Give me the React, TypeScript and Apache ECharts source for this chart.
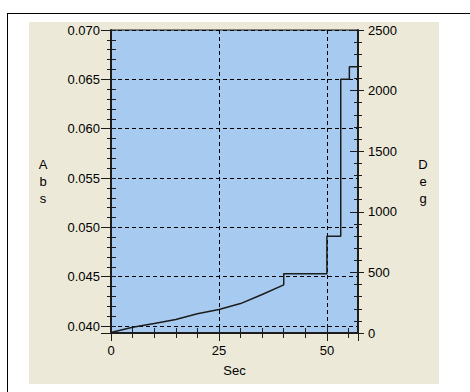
import { useEffect, useRef } from "react";
import * as echarts from "echarts";

// Absorbance trace over time (Abs on the left axis)
const secValues = [0, 5, 10, 15, 20, 25, 30, 35, 40, 40, 50, 50, 53.2, 53.2, 55.2, 55.2, 57.2];
const absValues = [
  0.03935, 0.03988, 0.04026, 0.04067, 0.04125, 0.04168, 0.04228, 0.0432, 0.04418,
  0.0453, 0.0453, 0.0491, 0.0491, 0.065, 0.065, 0.06628, 0.06628,
];

// Axis ranges and major steps
const secRange = [0, 57.2];
const secStep = 25;
const absRange = [0.0393, 0.07];
const absStep = 0.005;
const degRange = [0, 2500];
const degStep = 500;

const FONT = "'Liberation Sans', Arial, sans-serif";
const INK = "#1c1c1c";
const PLOT_BG = "#A6CAF0";
const PANEL_BG = "#ECE9D8";

const labelText = { color: "#000", fontFamily: FONT, fontSize: 13 };
const nameText = {
  color: "#000",
  fontFamily: FONT,
  fontSize: 13,
  lineHeight: 17,
  align: "center",
  verticalAlign: "middle",
};
const tickLine = { color: INK, width: 1 };
const gridDash = { color: "#000", width: 1, type: [4, 3] };

const isStep = (v: number, step: number) => Math.abs(v / step - Math.round(v / step)) < 1e-6;

export default function App() {
  const ref = useRef<HTMLDivElement>(null);

  useEffect(() => {
    if (!ref.current) return;
    const chart = echarts.init(ref.current, null, { renderer: "svg" });

    const secBase = {
      type: "value",
      position: "bottom",
      min: secRange[0],
      max: secRange[1],
      splitNumber: 2,
      minInterval: secStep,
      maxInterval: secStep,
    };
    const absBase = {
      type: "value",
      position: "left",
      min: absRange[0],
      max: absRange[1],
      splitNumber: 6,
      minInterval: absStep,
      maxInterval: absStep,
    };
    const degBase = {
      type: "value",
      position: "right",
      min: degRange[0],
      max: degRange[1],
      interval: degStep,
    };

    chart.setOption({
      animation: false,
      backgroundColor: "transparent",
      grid: {
        left: 111,
        top: 30,
        width: 247,
        height: 303,
        show: true,
        backgroundColor: PLOT_BG,
        borderColor: INK,
        borderWidth: 1,
      },
      xAxis: [
        {
          ...secBase,
          axisLine: { show: true, onZero: false, lineStyle: { color: INK, width: 2 } },
          axisTick: { show: true, inside: false, length: 8, lineStyle: tickLine },
          minorTick: { show: true, splitNumber: 5, length: 5, lineStyle: tickLine },
          axisLabel: {
            ...labelText,
            margin: 11,
            showMaxLabel: false,
            formatter: (v: number) => (isStep(v, secStep) ? String(v) : ""),
          },
          splitLine: { show: true, lineStyle: gridDash },
          name: "Sec",
          nameLocation: "middle",
          nameGap: 35,
          nameTextStyle: nameText,
        },
        {
          ...secBase,
          axisLine: { show: false, onZero: false },
          axisTick: { show: true, inside: true, length: 7, lineStyle: tickLine },
          minorTick: { show: true, splitNumber: 5, length: 5, lineStyle: tickLine },
          axisLabel: { show: false, showMaxLabel: false },
          splitLine: { show: false },
        },
      ],
      yAxis: [
        {
          ...absBase,
          axisLine: { show: true, onZero: false, lineStyle: { color: INK, width: 2 } },
          axisTick: { show: true, inside: false, length: 10, lineStyle: tickLine },
          minorTick: { show: true, splitNumber: 5, length: 4, lineStyle: tickLine },
          axisLabel: {
            ...labelText,
            margin: 11,
            showMinLabel: false,
            formatter: (v: number) => (isStep(v, absStep) ? v.toFixed(3) : ""),
          },
          splitLine: { show: true, lineStyle: gridDash },
          name: "A\nb\ns",
          nameLocation: "middle",
          nameRotate: 0,
          nameGap: 68,
          nameTextStyle: nameText,
        },
        {
          ...absBase,
          axisLine: { show: false, onZero: false },
          axisTick: { show: true, inside: true, length: 5, lineStyle: tickLine },
          minorTick: { show: true, splitNumber: 5, length: 5, lineStyle: tickLine },
          axisLabel: { show: false, showMinLabel: false },
          splitLine: { show: false },
        },
        {
          ...degBase,
          axisLine: { show: true, onZero: false, lineStyle: { color: INK, width: 2 } },
          axisTick: { show: true, inside: false, length: 6, lineStyle: tickLine },
          minorTick: { show: true, splitNumber: 5, length: 4, lineStyle: tickLine },
          axisLabel: { ...labelText, margin: 10, formatter: (v: number) => String(v) },
          splitLine: { show: false },
          name: "D\ne\ng",
          nameLocation: "middle",
          nameRotate: 0,
          nameGap: 65,
          nameTextStyle: nameText,
        },
        {
          ...degBase,
          axisLine: { show: false, onZero: false },
          axisTick: { show: true, inside: true, length: 8, lineStyle: tickLine },
          minorTick: { show: true, splitNumber: 5, length: 4, lineStyle: tickLine },
          axisLabel: { show: false },
          splitLine: { show: false },
        },
      ],
      series: [
        {
          name: "Abs",
          type: "line",
          xAxisIndex: 0,
          yAxisIndex: 0,
          data: secValues.map((s, i) => [s, absValues[i]]),
          showSymbol: false,
          symbol: "none",
          clip: true,
          lineStyle: { color: INK, width: 1.5 },
          z: 5,
        },
      ],
    });

    return () => chart.dispose();
  }, []);

  return (
    <div style={{ position: "fixed", left: 0, top: 0, width: 470, height: 392, background: "#fff" }}>
      <div
        style={{
          position: "absolute",
          left: 7,
          top: 13,
          right: 0,
          bottom: 0,
          borderTop: "1px solid #000",
          borderLeft: "1px solid #000",
        }}
      />
      <div
        style={{ position: "absolute", left: 29, top: 22, width: 410, height: 362, background: PANEL_BG }}
      />
      <div ref={ref} style={{ position: "absolute", left: 0, top: 0, width: 470, height: 392 }} />
    </div>
  );
}
